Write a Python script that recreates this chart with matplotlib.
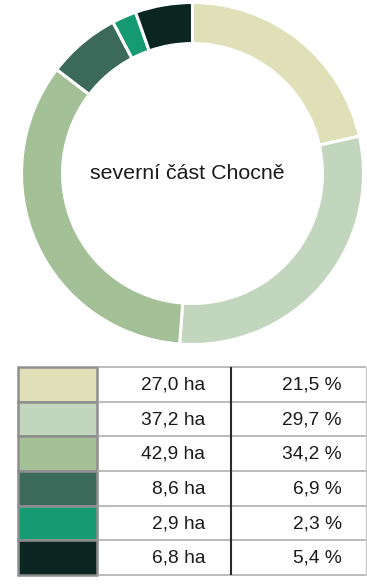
import matplotlib
matplotlib.use("Agg")
import matplotlib.pyplot as plt

plt.rcParams['font.family'] = ['Liberation Sans', 'DejaVu Sans']

# Land-use shares, northern part of Choceň
area_ha = [27.0, 37.2, 42.9, 8.6, 2.9, 6.8]
share_pct = [21.5, 29.7, 34.2, 6.9, 2.3, 5.4]
colors = ['#dfdfb8', '#c2d6bd', '#a3c096', '#3c6a5a', '#159a72', '#0b2620']
center_label = 'severní část Chocně'

area_labels = [f"{v:.1f}".replace('.', ',') + ' ha' for v in area_ha]
share_labels = [f"{v:.1f}".replace('.', ',') + ' %' for v in share_pct]

W, H = 367, 585
fig = plt.figure(figsize=(W / 100, H / 100), dpi=100)
fig.patch.set_facecolor('white')

# Donut chart
cx, cy, R = 192.5, 173.5, 171.0
ax = fig.add_axes([(cx - R) / W, (H - cy - R) / H, 2 * R / W, 2 * R / H])
ax.pie(share_pct, colors=colors, startangle=90, counterclock=False, radius=1.0,
       wedgeprops=dict(width=0.24, edgecolor='white', linewidth=2.2))
ax.set_xlim(-1, 1)
ax.set_ylim(-1, 1)
ax.set_aspect('equal')
ax.axis('off')
ax.text(-0.03, 0.0, center_label, ha='center', va='center', fontsize=15.4,
        color='#1a1a1a')

# Summary table below the donut
tx0, tx1, ty0, ty1 = 18, 367, 367, 575
axt = fig.add_axes([tx0 / W, (H - ty1) / H, (tx1 - tx0) / W, (ty1 - ty0) / H])
n = len(area_ha)
axt.set_xlim(0, 1)
axt.set_ylim(n, 0)
axt.axis('off')

col_swatch = 0.2264
col_div = 0.609
col_right = 0.996
rows = list(range(n))

axt.hlines(range(n + 1), col_swatch, col_right, color='#a8a8a8', lw=1.1,
           clip_on=False)
axt.vlines(col_div, 0, n, color='#2a2a2a', lw=1.5, clip_on=False)
axt.vlines(col_right, 0, n, color='#c8c8c8', lw=1.0, clip_on=False)
axt.barh([r + 0.5 for r in rows], col_swatch, left=0, height=1.0, color=colors,
         edgecolor='#8e8e8e', linewidth=1.8, clip_on=False)

for r in rows:
    axt.text(0.536, r + 0.52, area_labels[r], ha='right', va='center',
             fontsize=13.8, color='#1a1a1a')
    axt.text(0.928, r + 0.52, share_labels[r], ha='right', va='center',
             fontsize=13.8, color='#1a1a1a')

fig.savefig('out.png', dpi=100, facecolor='white')
